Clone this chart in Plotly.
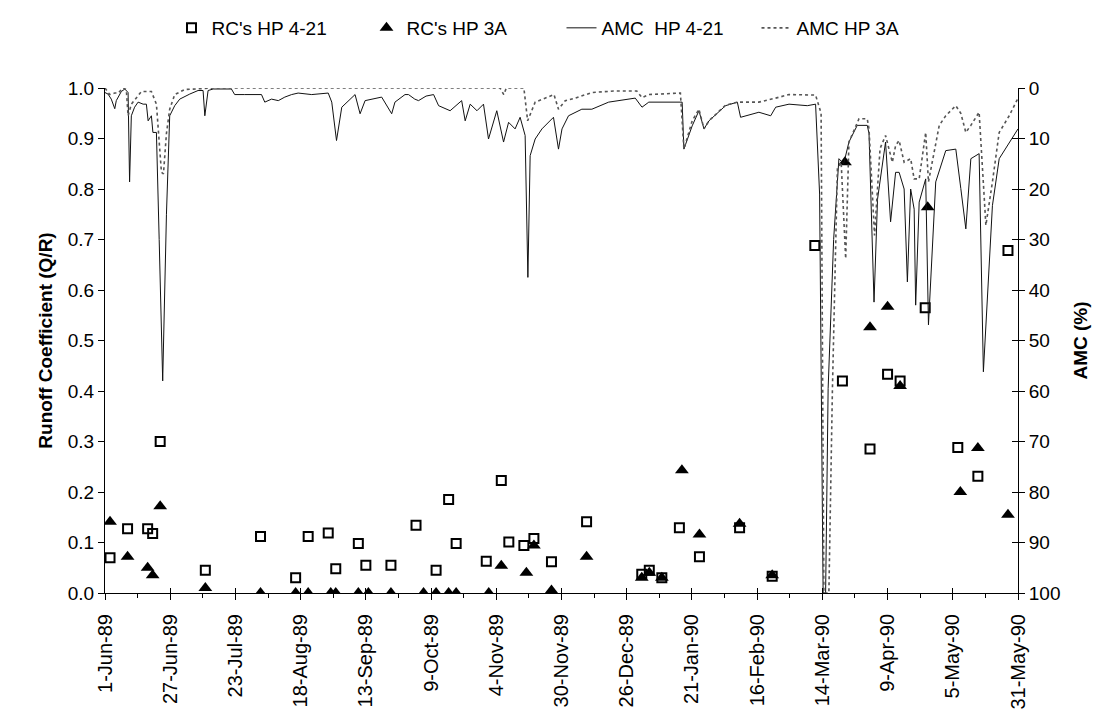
import pandas as pd
import plotly.graph_objects as go

START = pd.Timestamp("1989-06-01")

# Runoff coefficients (day offset from 1-Jun-89, value)
rc421_days = [2, 9, 17, 19, 22, 40, 62, 76, 81, 89, 92, 101, 104, 114, 124, 132, 137, 140,
              152, 158, 161, 167, 171, 178, 192, 214, 217, 222, 229, 237, 253, 266,
              283, 294, 305, 312, 317, 327, 340, 348, 360]
rc421_vals = [0.070, 0.127, 0.127, 0.118, 0.300, 0.045, 0.112, 0.030, 0.112, 0.119, 0.048, 0.098,
              0.055, 0.055, 0.134, 0.045, 0.185, 0.098, 0.063, 0.223, 0.101, 0.094, 0.108, 0.062,
              0.141, 0.037, 0.045, 0.030, 0.129, 0.072, 0.129, 0.033,
              0.688, 0.420, 0.285, 0.433, 0.420, 0.565, 0.288, 0.231, 0.678]

rc3a_days = [2, 9, 17, 19, 22, 40, 62, 76, 81, 90, 92, 101, 105, 114, 127, 132, 137, 140, 153,
             158, 168, 171, 178, 192, 214, 217, 222, 230, 237, 253, 266,
             295, 305, 312, 317, 328, 341, 348, 360]
rc3a_vals = [0.141, 0.072, 0.050, 0.035, 0.172, 0.010, 0.0, 0.0, 0.0, 0.0, 0.0, 0.0, 0.0, 0.0,
             0.0, 0.0, 0.0, 0.0, 0.0, 0.054, 0.040, 0.094, 0.005, 0.072, 0.030, 0.040, 0.030,
             0.243, 0.116, 0.137, 0.035, 0.853, 0.526, 0.567, 0.410, 0.764, 0.200, 0.287, 0.155]

# AMC (%) breakpoints (day offset, value)
amc421_days = [0, 1.2, 2.5, 3.9, 4.5, 6.5, 7.9, 9.2, 9.8, 10.5, 11.8, 13.2, 15.2, 16.5, 17.2, 18.5,
               19.1, 20.5, 21.6, 23.0, 24.5, 25.8, 27.8, 29.8, 33.8, 37.1, 39.1, 39.8, 41.1, 43.1,
               50.4, 51.7, 55.7, 62.4, 63.7, 66.4, 69.1, 71.7, 74.4, 77.0, 82.4, 89.0, 90.4, 92.3,
               94.4, 99.7, 101.7, 103.7, 110.3, 114.3, 115.6, 119.6, 121, 123.5, 125, 128, 131,
               133, 137.6, 142.2, 143.6, 145.6, 148.3, 150.9, 152.9, 156.2, 158.9, 160.9, 163.5,
               165.5, 167.5, 168.6, 169.5, 171.5, 174.2, 178.8, 180.8, 182.2, 184.8, 190.1, 194.1,
               200.8, 211.4, 214.1, 216.8, 222.1, 230.1, 230.8, 234.1, 236.8, 238.8, 240.8, 247.4,
               252.1, 253.4, 260.7, 265.4, 267.4, 272.7, 280, 283.3, 284.9, 286.3, 287.3, 288.3,
               290.5, 292.0, 292.6, 294.5, 296.6, 299.9, 303.9, 304.6, 306.6, 308, 311.2, 313.2,
               315.2, 316.6, 318.6, 319.9, 321.2, 322.6, 323.2, 324.6, 327.2, 328.3, 331.2, 335.2,
               339.2, 341.2, 343.2, 345.2, 348.5, 350.2, 353.8, 356.5, 360.5, 364]
amc421_vals = [0.9, 1.2, 2.2, 4.1, 2.5, 0.7, 0.2, 0.9, 18.6, 5.5, 3.8, 2.8, 3.2, 3.2, 6.5, 5.5,
               8.8, 8.8, 30, 58, 25, 5.5, 3.5, 2.2, 1.2, 0.5, 0.5, 5.5, 0.5, 0.2,
               0.2, 1.3, 1.3, 1.3, 2.8, 2.2, 2.5, 1.8, 1.3, 1.0, 1.3, 1.0, 2.8, 10.4,
               3.8, 1.3, 5.1, 2.5, 1.8, 5.1, 2.8, 1.3, 1.3, 2.2, 2.5, 1.6, 1.3,
               3.5, 4.5, 2.5, 6.5, 3.2, 4.5, 3.2, 10.1, 4.5, 10.7, 6.8, 8.1,
               5.8, 9.4, 37.5, 13.4, 10.1, 8.1, 5.8, 12.1, 8.1, 5.5, 4.2, 4.2,
               2.8, 2.0, 3.8, 2.8, 2.8, 2.8, 12.1, 7.5, 4.5, 8.1, 6.5, 3.5,
               2.8, 5.8, 4.8, 5.5, 3.8, 3.2, 3.5, 3.2, 21, 100, 100, 59.5,
               30, 16.7, 14.0, 15, 10.7, 7.4, 7.4, 9, 42.4, 22, 10.7, 26.5,
               16.7, 16.7, 20, 38.4, 20, 24, 43.0, 22.6, 18, 46.9, 18.6, 12.4,
               12.1, 19.9, 27.9, 14, 13, 56.2, 23.3, 14, 10.7, 8.1]

amc3a_days = [0, 1.9, 3.9, 5.2, 7.2, 8.5, 9.2, 10.5, 14.5, 18.5, 20.5, 22.5, 23.3, 24.5, 25.8,
              27.8, 31.8, 37.1, 43.1, 157.5, 159, 160, 167, 168.5, 171.5, 179, 180.8, 183.5,
              187.5, 194.1, 202.8, 212, 214.1, 216.8, 227.4, 229.4, 230.8, 234.1, 236.8, 238.8,
              240.8, 247.4, 252.1, 260.7, 267.4, 272.7, 283.3, 285.5, 286.6, 288.6, 290.0, 292.0,
              293.5, 295.3, 296.6, 300.6, 303.9, 304.6, 306.8, 309, 311.2, 313.9, 315.2, 316.6,
              318.6, 321.2, 322.6, 324.6, 327.2, 328.3, 332.6, 335.2, 339.2, 341.2, 343.2, 345.2,
              348.5, 351.2, 353.8, 356.5, 360.5, 364]
amc3a_vals = [0, 1.3, 1.0, 1.0, 0, 0.3, 5.5, 3.2, 0.7, 0.7, 3.2, 16.7, 17, 9, 4.2,
              1.3, 0.3, 0.2, 0, 0, 1.3, 0, 0, 6.5, 2.8, 1.3, 4.2, 2.5,
              2.0, 0.9, 0.6, 0.6, 1.9, 1.3, 1.0, 1.0, 12.1, 6.5, 4.2, 8.1,
              6.5, 3.4, 2.8, 2.8, 2.0, 1.3, 1.4, 5, 100, 100, 60, 16.0,
              14.7, 33.8, 10.7, 6.1, 6.1, 8.1, 29.2, 12, 9.4, 14.7, 11.4, 10.4,
              14.7, 14.0, 18.0, 18.0, 8.8, 18.6, 7.4, 5.5, 3.5, 5.0, 8.8, 7.4,
              4.8, 27.2, 18.6, 8.8, 5.5, 2.0]

tick_dates = ["1989-06-01", "1989-06-27", "1989-07-23", "1989-08-18", "1989-09-13", "1989-10-09",
              "1989-11-04", "1989-11-30", "1989-12-26", "1990-01-21", "1990-02-16", "1990-03-14",
              "1990-04-09", "1990-05-05", "1990-05-31"]
tick_labels = ["1-Jun-89", "27-Jun-89", "23-Jul-89", "18-Aug-89", "13-Sep-89", "9-Oct-89",
               "4-Nov-89", "30-Nov-89", "26-Dec-89", "21-Jan-90", "16-Feb-90", "14-Mar-90",
               "9-Apr-90", "5-May-90", "31-May-90"]
left_ticks = [0.0, 0.1, 0.2, 0.3, 0.4, 0.5, 0.6, 0.7, 0.8, 0.9, 1.0]
right_ticks = [0, 10, 20, 30, 40, 50, 60, 70, 80, 90, 100]


def to_dates(days):
    return [START + pd.Timedelta(days=float(d)) for d in days]


FONT = "Liberation Sans, Arial, sans-serif"
X_RANGE = ["1989-06-01", "1990-05-31"]

fig = go.Figure()
fig.add_trace(go.Scatter(
    x=to_dates(rc421_days), y=rc421_vals, mode="markers", name="RC's HP 4-21",
    marker=dict(symbol="square-open", size=9, color="black", line=dict(width=2, color="black")),
))
fig.add_trace(go.Scatter(
    x=to_dates(rc3a_days), y=rc3a_vals, mode="markers", name="RC's HP 3A",
    marker=dict(symbol="triangle-up", size=12, color="black"),
))
fig.add_trace(go.Scatter(
    x=to_dates(amc421_days), y=amc421_vals, mode="lines", name="AMC  HP 4-21", yaxis="y2",
    line=dict(color="#111111", width=1),
))
fig.add_trace(go.Scatter(
    x=to_dates(amc3a_days), y=amc3a_vals, mode="lines", name="AMC HP 3A", yaxis="y2",
    line=dict(color="#555555", width=1.6, dash="dot"),
))

fig.update_layout(
    width=1107, height=714,
    margin=dict(l=97, r=97, t=80, b=129),
    paper_bgcolor="white", plot_bgcolor="white",
    font=dict(family=FONT, size=19, color="black"),
    showlegend=True,
    legend=dict(orientation="h", x=0.5, xanchor="center", y=0.972, yanchor="middle",
                yref="container", font=dict(size=19), itemwidth=30, traceorder="normal",
                entrywidth=150, entrywidthmode="pixels"),
    xaxis=dict(
        type="date", range=X_RANGE,
        tickmode="array", tickvals=tick_dates, ticktext=tick_labels, tickangle=-90,
        ticks="outside", ticklen=6, tickwidth=1, tickcolor="black", ticklabelstandoff=6,
        minor=dict(ticks="outside", ticklen=4, tickcolor="black",
                   dtick=13 * 86400000, tick0="1989-06-01"),
        showline=True, linecolor="black", linewidth=1, showgrid=False, zeroline=False,
        tickfont=dict(size=20),
    ),
    # inner half of the crossing x tick marks
    xaxis2=dict(
        type="date", range=X_RANGE, overlaying="x", anchor="y", side="bottom",
        tickmode="array", tickvals=tick_dates, showticklabels=False,
        ticks="inside", ticklen=5, tickcolor="black",
        showline=False, showgrid=False, zeroline=False,
    ),
    yaxis=dict(
        range=[0, 1.0], tickmode="array", tickvals=left_ticks, tickformat=".1f",
        ticks="outside", ticklen=6, tickcolor="black",
        showline=True, linecolor="black", linewidth=1, showgrid=False, zeroline=False,
        title=dict(text="<b>Runoff Coefficient (Q/R)</b>", font=dict(size=19), standoff=10),
        tickfont=dict(size=19),
    ),
    yaxis2=dict(
        range=[100, 0], overlaying="y", side="right", tickmode="array", tickvals=right_ticks,
        ticks="outside", ticklen=6, tickcolor="black",
        showline=True, linecolor="black", linewidth=1, showgrid=False, zeroline=False,
        title=dict(text="<b>AMC (%)</b>", font=dict(size=19), standoff=14),
        tickfont=dict(size=19),
    ),
    # inner half of the crossing right-axis tick marks
    yaxis3=dict(
        range=[100, 0], overlaying="y", side="right", anchor="x", tickmode="array",
        tickvals=right_ticks, showticklabels=False, ticks="inside", ticklen=6, tickcolor="black",
        showline=False, showgrid=False, zeroline=False,
    ),
)

# invisible helper traces so the tick-only overlay axes are drawn
fig.add_trace(go.Scatter(x=[X_RANGE[0]], y=[50], xaxis="x2", yaxis="y3", mode="markers",
                         marker=dict(opacity=0), showlegend=False, hoverinfo="skip"))

fig.write_html("out.html")
